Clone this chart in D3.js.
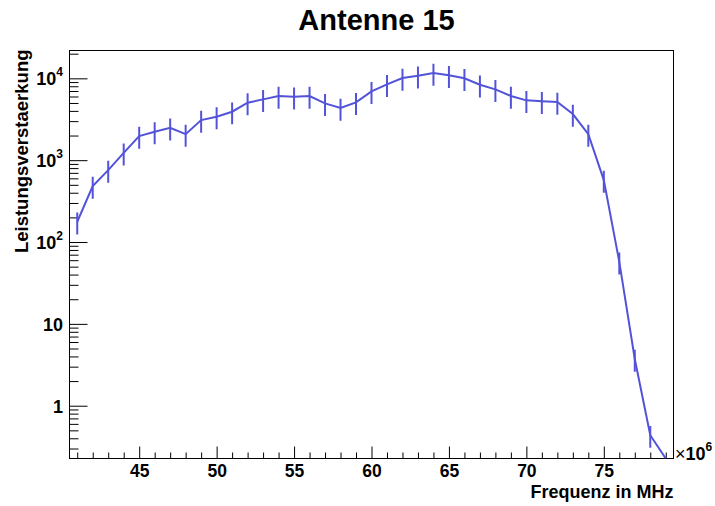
<!DOCTYPE html>
<html>
<head>
<meta charset="utf-8">
<script src="https://cdn.jsdelivr.net/npm/d3@7"></script>
<style>
  html, body { margin: 0; padding: 0; background: #fff; }
  svg { display: block; font-family: "Liberation Sans", Arial, Helvetica, sans-serif; font-weight: bold; }
</style>
</head>
<body>
<svg id="chart" width="715" height="506"></svg>
<script>
// Frequency bins (MHz, bin centres)
const freqMHz = [41, 42, 43, 44, 45, 46, 47, 48, 49, 50,
                 51, 52, 53, 54, 55, 56, 57, 58, 59, 60,
                 61, 62, 63, 64, 65, 66, 67, 68, 69, 70,
                 71, 72, 73, 74, 75, 76, 77, 78, 79];
// Power gain per bin
const gain = [177, 482, 757, 1230, 1970, 2230, 2490, 2080, 3090, 3400,
              3910, 5040, 5530, 6080, 5960, 6080, 4940, 4340, 5090, 6930,
              8450, 10090, 10760, 11600, 10880, 10000, 8350, 7340, 6080, 5380,
              5240, 5130, 3660, 2080, 571, 57.3, 3.72, 0.436, 0];
// Uncertainty per bin
const gainErr = [53, 145, 227, 370, 590, 670, 750, 625, 930, 1020,
                 1170, 1510, 1660, 1820, 1790, 1820, 1480, 1300, 1530, 2080,
                 2540, 3030, 3230, 3480, 3260, 3000, 2500, 2200, 1820, 1610,
                 1570, 1540, 1100, 625, 171, 17.2, 1.12, 0.13, 0];

const xDomain = [40.5, 79.5];
const yDomain = [0.2265, 21880];
const xMajorTicks = [45, 50, 55, 60, 65, 70, 75];
const yMajorTicks = [1, 10, 100, 1000, 10000];
const yTickLabels = [["1", ""], ["10", ""], ["10", "2"], ["10", "3"], ["10", "4"]];

const titleText = "Antenne 15";
const xTitle = "Frequenz in MHz";
const yTitle = "Leistungsverstaerkung";

const frame = { left: 69.5, right: 673.5, top: 50.5, bottom: 458.5 };
const lineColor = "#5353d9";

const svg = d3.select("#chart");

const x = d3.scaleLinear().domain(xDomain).range([frame.left, frame.right]);
const y = d3.scaleLog().domain(yDomain).range([frame.bottom, frame.top]);

// Clip region for the data
svg.append("defs").append("clipPath").attr("id", "plot-clip")
  .append("rect")
  .attr("x", frame.left).attr("y", frame.top)
  .attr("width", frame.right - frame.left).attr("height", frame.bottom - frame.top);

// Frame
svg.append("rect")
  .attr("x", frame.left).attr("y", frame.top)
  .attr("width", frame.right - frame.left).attr("height", frame.bottom - frame.top)
  .attr("fill", "none").attr("stroke", "#000").attr("stroke-width", 1);

// X axis: majors every 5, minors every 1
const xMinor = d3.range(Math.ceil(xDomain[0]), Math.floor(xDomain[1]) + 1)
  .filter(v => !xMajorTicks.includes(v));
const xAxisMajor = d3.axisBottom(x).tickValues(xMajorTicks).tickSize(-12).tickFormat(d3.format("d"));
const xAxisMinor = d3.axisBottom(x).tickValues(xMinor).tickSize(-6).tickFormat("");

const gxMinor = svg.append("g").attr("transform", `translate(0,${frame.bottom})`).call(xAxisMinor);
const gxMajor = svg.append("g").attr("transform", `translate(0,${frame.bottom})`).call(xAxisMajor);
[gxMinor, gxMajor].forEach(g => {
  g.select(".domain").remove();
  g.selectAll("line").attr("stroke", "#000");
});
gxMajor.selectAll("text")
  .attr("font-size", 17.5).attr("font-family", "Liberation Sans, Arial, sans-serif")
  .attr("font-weight", "bold").attr("fill", "#000").attr("dy", null).attr("y", 18.5);

// Y axis: decades with 2..9 minors
const yMinor = [];
for (let e = -1; e <= 4; e++) {
  for (let m = 2; m <= 9; m++) {
    const v = m * Math.pow(10, e);
    if (v >= yDomain[0] && v <= yDomain[1]) yMinor.push(v);
  }
}
const yAxisMinor = d3.axisLeft(y).tickValues(yMinor).tickSize(-9).tickFormat("");
const yAxisMajor = d3.axisLeft(y).tickValues(yMajorTicks).tickSize(-18).tickFormat("");
const gyMinor = svg.append("g").attr("transform", `translate(${frame.left},0)`).call(yAxisMinor);
const gyMajor = svg.append("g").attr("transform", `translate(${frame.left},0)`).call(yAxisMajor);
[gyMinor, gyMajor].forEach(g => {
  g.select(".domain").remove();
  g.selectAll("line").attr("stroke", "#000");
});

// Y tick labels with superscript exponents
const yLab = svg.append("g");
yMajorTicks.forEach((v, i) => {
  const [base, exp] = yTickLabels[i];
  const t = yLab.append("text")
    .attr("x", 63).attr("y", y(v) + 7)
    .attr("text-anchor", "end").attr("font-size", 18).attr("fill", "#000");
  t.append("tspan").text(base);
  if (exp) t.append("tspan").attr("dy", -9).attr("font-size", 12).text(exp);
});

// Data: polyline through bin centres plus vertical error bars
const plot = svg.append("g").attr("clip-path", "url(#plot-clip)");
const yClamp = v => y(Math.max(v, yDomain[0]));
const pts = freqMHz.map((f, i) => [x(f), yClamp(gain[i])]);

plot.selectAll("line.err")
  .data(freqMHz.map((f, i) => ({ f, v: gain[i], e: gainErr[i] })).filter(d => d.e > 0))
  .enter().append("line").attr("class", "err")
  .attr("x1", d => x(d.f)).attr("x2", d => x(d.f))
  .attr("y1", d => yClamp(d.v + d.e)).attr("y2", d => yClamp(d.v - d.e))
  .attr("stroke", lineColor).attr("stroke-width", 2);

plot.append("path")
  .attr("d", d3.line()(pts))
  .attr("fill", "none").attr("stroke", lineColor).attr("stroke-width", 2)
  .attr("stroke-linejoin", "miter");

// Titles
svg.append("text").attr("x", 376.5).attr("y", 30)
  .attr("text-anchor", "middle").attr("font-size", 29).attr("fill", "#000")
  .text(titleText);

svg.append("text").attr("x", frame.right).attr("y", 497.5)
  .attr("text-anchor", "end").attr("font-size", 18).attr("fill", "#000")
  .text(xTitle);

svg.append("text")
  .attr("transform", `translate(28,${frame.top - 1}) rotate(-90)`)
  .attr("text-anchor", "end").attr("font-size", 18.5).attr("fill", "#000")
  .text(yTitle);

// Axis multiplier
const mult = svg.append("text").attr("x", 675).attr("y", 460)
  .attr("font-size", 18).attr("fill", "#000").attr("font-weight", "normal");
mult.append("tspan").text("\u00d7");
mult.append("tspan").attr("font-weight", "bold").text("10");
mult.append("tspan").attr("dy", -9).attr("font-size", 12).attr("font-weight", "bold").text("6");
</script>
</body>
</html>
